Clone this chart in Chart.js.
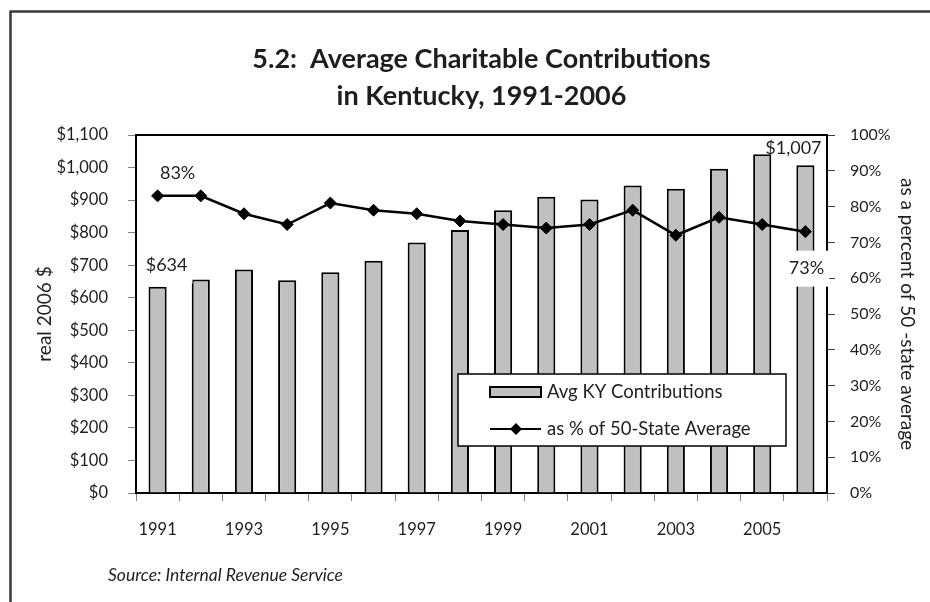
<!DOCTYPE html>
<html>
<head>
<meta charset="utf-8">
<script src="https://cdn.jsdelivr.net/npm/chart.js@4/dist/chart.umd.min.js"></script>
<style>
  html, body { margin: 0; padding: 0; background: #ffffff; overflow: hidden; }
  #wrap { position: relative; width: 930px; height: 602px; }
</style>
</head>
<body>
<div id="wrap"><canvas id="chart"></canvas></div>
<script>
// Kentucky average charitable contributions (real 2006 dollars) and share of 50-state average
const years = ['1991','1992','1993','1994','1995','1996','1997','1998',
               '1999','2000','2001','2002','2003','2004','2005','2006'];
const avgContributions = [634, 656, 687, 654, 678, 714, 770, 808,
                          869, 910, 902, 945, 935, 996, 1041, 1007];
const pctOfStateAverage = [83, 83, 78, 75, 81, 79, 78, 76,
                           75, 74, 75, 79, 72, 77, 75, 73];
const dollarTicks = [0, 100, 200, 300, 400, 500, 600, 700, 800, 900, 1000, 1100];
const percentTicks = [0, 10, 20, 30, 40, 50, 60, 70, 80, 90, 100];

const titleLines = ['5.2:  Average Charitable Contributions', 'in Kentucky, 1991-2006'];
const sourceNote = 'Source: Internal Revenue Service';
const barLabel = 'Avg KY Contributions';
const lineLabel = 'as % of 50-State Average';

const FONT = 'Lato, "Open Sans", sans-serif';
const TEXT = '#1e1e1e';

const fmtDollar = v => '$' + Number(v).toLocaleString('en-US');
const fmtPct = v => v + '%';

// Title, outer frame, plot top edge, callout labels and the in-plot legend
const decorations = {
  id: 'decorations',
  beforeDraw(chart) {
    const ctx = chart.ctx;
    ctx.save();
    ctx.strokeStyle = '#3a3a3a';
    ctx.lineWidth = 2.5;
    ctx.beginPath();
    ctx.moveTo(10.5, 620);
    ctx.lineTo(10.5, 11.5);
    ctx.lineTo(940, 11.5);
    ctx.stroke();
    ctx.restore();
  },
  afterDraw(chart) {
    const ctx = chart.ctx;
    const a = chart.chartArea;
    ctx.save();

    // plot top edge
    ctx.strokeStyle = '#000';
    ctx.lineWidth = 2;
    ctx.beginPath();
    ctx.moveTo(a.left, a.top);
    ctx.lineTo(a.right, a.top);
    ctx.stroke();

    // title
    const cx = (a.left + a.right) / 2;
    ctx.fillStyle = TEXT;
    ctx.textAlign = 'center';
    ctx.textBaseline = 'middle';
    ctx.font = 'bold 27px ' + FONT;
    ctx.fillText(titleLines[0], cx, 59);
    ctx.fillText(titleLines[1], cx, 96);

    // source note
    ctx.textAlign = 'left';
    ctx.font = 'italic 17.5px ' + FONT;
    ctx.fillText(sourceNote, 108, 575);

    // value callouts
    const bars = chart.getDatasetMeta(0).data;
    const pts = chart.getDatasetMeta(1).data;
    const last = years.length - 1;
    ctx.font = '18px ' + FONT;
    ctx.textAlign = 'center';

    const callout = (text, x, y, boxed) => {
      if (boxed) {
        const w = ctx.measureText(text).width + 10;
        ctx.fillStyle = '#fff';
        ctx.fillRect(x - w / 2, y - 18, w, 36);
      }
      ctx.fillStyle = TEXT;
      ctx.fillText(text, x, y);
    };
    callout(fmtDollar(avgContributions[0]), bars[0].x + 9, bars[0].y - 21, true);
    callout(fmtPct(pctOfStateAverage[0]), pts[0].x + 20, pts[0].y - 23, false);
    callout(fmtDollar(avgContributions[last]), bars[last].x - 12, bars[last].y - 17, false);
    callout(fmtPct(pctOfStateAverage[last]), pts[last].x + 1, pts[last].y + 37, true);

    // legend
    const lx = 458, ly = 374, lw = 328, lh = 72;
    ctx.fillStyle = '#fff';
    ctx.fillRect(lx, ly, lw, lh);
    ctx.strokeStyle = '#000';
    ctx.lineWidth = 1.5;
    ctx.strokeRect(lx, ly, lw, lh);

    const bd = chart.data.datasets[0];
    ctx.fillStyle = bd.backgroundColor;
    ctx.fillRect(490, 387, 51, 10);
    ctx.lineWidth = 2;
    ctx.strokeStyle = bd.borderColor;
    ctx.strokeRect(490, 387, 51, 10);

    const ld = chart.data.datasets[1];
    ctx.strokeStyle = ld.borderColor;
    ctx.lineWidth = 2;
    ctx.beginPath();
    ctx.moveTo(490, 429);
    ctx.lineTo(541, 429);
    ctx.stroke();
    ctx.fillStyle = ld.pointBackgroundColor;
    ctx.beginPath();
    ctx.moveTo(516, 423);
    ctx.lineTo(522, 429);
    ctx.lineTo(516, 435);
    ctx.lineTo(510, 429);
    ctx.closePath();
    ctx.fill();

    ctx.fillStyle = TEXT;
    ctx.textAlign = 'left';
    ctx.font = '18.5px ' + FONT;
    ctx.fillText(bd.label, 547, 392);
    ctx.fillText(ld.label, 547, 429);

    ctx.restore();
  }
};

new Chart(document.getElementById('chart'), {
  data: {
    labels: years,
    datasets: [
      {
        type: 'bar',
        label: barLabel,
        data: avgContributions,
        yAxisID: 'y',
        backgroundColor: '#c0c0c0',
        borderColor: '#000',
        borderWidth: 2,
        borderSkipped: 'bottom',
        barPercentage: 0.42,
        categoryPercentage: 1.0,
        order: 2
      },
      {
        type: 'line',
        label: lineLabel,
        data: pctOfStateAverage,
        yAxisID: 'y1',
        borderColor: '#000',
        borderWidth: 2.5,
        pointStyle: 'rectRot',
        pointRadius: 6,
        pointBackgroundColor: '#000',
        pointBorderColor: '#000',
        pointBorderWidth: 1,
        tension: 0,
        order: 1
      }
    ]
  },
  options: {
    responsive: true,
    maintainAspectRatio: false,
    animation: false,
    layout: { padding: { left: 33, right: 11, top: 135, bottom: 49 } },
    plugins: {
      legend: { display: false },
      title: { display: false },
      tooltip: { enabled: false }
    },
    scales: {
      x: {
        type: 'category',
        offset: true,
        grid: { offset: true, drawOnChartArea: false, drawTicks: true, tickLength: 8, color: '#808080', lineWidth: 1 },
        border: { color: '#000', width: 2 },
        ticks: {
          autoSkip: false, maxRotation: 0, padding: 19,
          color: TEXT, font: { family: FONT, size: 16.5 },
          callback: (v, i) => (i % 2 === 0 ? years[i] : '')
        },
        afterFit: s => { s.height = 60; }
      },
      y: {
        position: 'left',
        min: 0, max: 1100,
        afterBuildTicks: s => { s.ticks = dollarTicks.map(v => ({ value: v })); },
        grid: { drawOnChartArea: false, drawTicks: true, tickLength: 8, color: '#808080' },
        border: { color: '#000', width: 2 },
        ticks: { padding: 20, color: TEXT, font: { family: FONT, size: 16.5 }, callback: v => fmtDollar(v) },
        title: { display: true, text: 'real 2006 $', color: TEXT, font: { family: FONT, size: 19 }, padding: 0 },
        afterFit: s => { s.width = 103; }
      },
      y1: {
        position: 'right',
        min: 0, max: 100,
        afterBuildTicks: s => { s.ticks = percentTicks.map(v => ({ value: v })); },
        grid: { drawOnChartArea: false, drawTicks: true, tickLength: 8, color: '#404040' },
        border: { color: '#000', width: 2 },
        ticks: { padding: 15, color: TEXT, font: { family: FONT, size: 16 }, callback: v => fmtPct(v) },
        title: { display: true, text: 'as a percent of 50 -state average', color: TEXT, font: { family: FONT, size: 19 }, padding: 0 },
        afterFit: s => { s.width = 92; }
      }
    }
  },
  plugins: [decorations]
});
</script>
</body>
</html>
